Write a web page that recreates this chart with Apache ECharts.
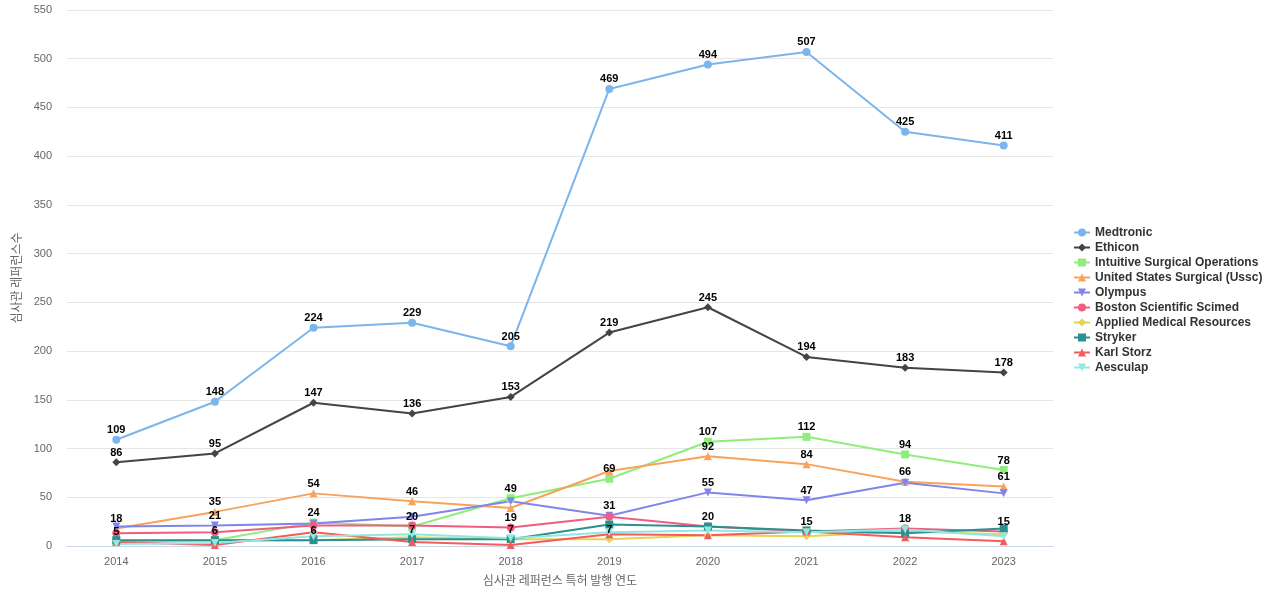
<!DOCTYPE html>
<html>
<head>
<meta charset="utf-8">
<script src="https://cdn.jsdelivr.net/npm/echarts@6/dist/echarts.min.js"></script>
<style>html,body{margin:0;padding:0;background:#fff;}#c{width:1280px;height:600px;}</style>
</head>
<body>
<div id="c"></div>
<script>
const years = ['2014','2015','2016','2017','2018','2019','2020','2021','2022','2023'];
const seriesNames = ['Medtronic','Ethicon','Intuitive Surgical Operations','United States Surgical (Ussc)','Olympus','Boston Scientific Scimed','Applied Medical Resources','Stryker','Karl Storz','Aesculap'];
const medtronic = [109,148,224,229,205,469,494,507,425,411];
const ethicon = [86,95,147,136,153,219,245,194,183,178];
const intuitive = [5,6,24,20,49,69,107,112,94,78];
const ussc = [18,35,54,46,39,77,92,84,66,61];
const olympus = [20,21,23,30,46,31,55,47,65,54];
const boston = [13,14,21,21,19,30,20,15,18,15];
const applied = [5,6,6,9,7,7,11,10,15,12];
const stryker = [6,6,6,7,7,22,20,16,13,18];
const karlStorz = [4,1,14,4,1,12,11,15,9,5];
const aesculap = [2,3,10,12,8,14,16,14,17,10];
const yTicks = {min:0, max:550, interval:50};

const allData = [medtronic,ethicon,intuitive,ussc,olympus,boston,applied,stryker,karlStorz,aesculap];
const colors = ['#7cb5ec','#434348','#90ed7d','#f7a35c','#8085e9','#f15c80','#e4d354','#2b908f','#f45b5b','#91e8e1'];
const symbols = ['circle','diamond','rect','triangle','triangle','circle','diamond','rect','triangle','triangle'];
const rotates = [0,0,0,0,180,0,0,0,0,180];

const series = seriesNames.map((n,i)=>({
  name:n, type:'line', data:allData[i],
  symbol:symbols[i], symbolRotate:rotates[i], symbolSize:8,
  lineStyle:{width:2, color:colors[i]},
  itemStyle:{color:colors[i]},
  label:{show:true, position:'top', distance:0, color:'#000', fontWeight:'bold', fontSize:11, fontFamily:'Liberation Sans, Arial, sans-serif'},
  labelLayout:{hideOverlap:true},
  emphasis:{disabled:true}
}));

const chart = echarts.init(document.getElementById('c'));
chart.setOption({
  animation:false,
  color:colors,
  grid:{left:67, right:227, top:10, bottom:54},
  legend:{
    orient:'vertical', left:1068, top:'middle',
    itemWidth:16, itemHeight:10, itemGap:3,
    textStyle:{fontWeight:'bold', fontSize:12, color:'#333', fontFamily:'Liberation Sans, Arial, sans-serif'},
    data:seriesNames
  },
  xAxis:{
    type:'category', data:years, boundaryGap:true,
    name:'심사관 레퍼런스 특허 발행 연도', nameLocation:'middle', nameGap:28,
    nameTextStyle:{color:'#666', fontSize:12, fontFamily:'Noto Sans CJK KR'},
    axisLine:{lineStyle:{color:'#ccd6eb'}},
    axisTick:{show:false},
    axisLabel:{color:'#666', fontSize:11, margin:10}
  },
  yAxis:{
    type:'value', min:yTicks.min, max:yTicks.max, interval:yTicks.interval,
    name:'심사관 레퍼런스수', nameLocation:'middle', nameGap:41,
    nameTextStyle:{color:'#666', fontSize:12, fontFamily:'Noto Sans CJK KR'},
    axisLine:{show:false}, axisTick:{show:false},
    axisLabel:{color:'#666', fontSize:11, margin:15},
    splitLine:{lineStyle:{color:'#e6e6e6'}}
  },
  series:series
});
</script>
</body>
</html>
